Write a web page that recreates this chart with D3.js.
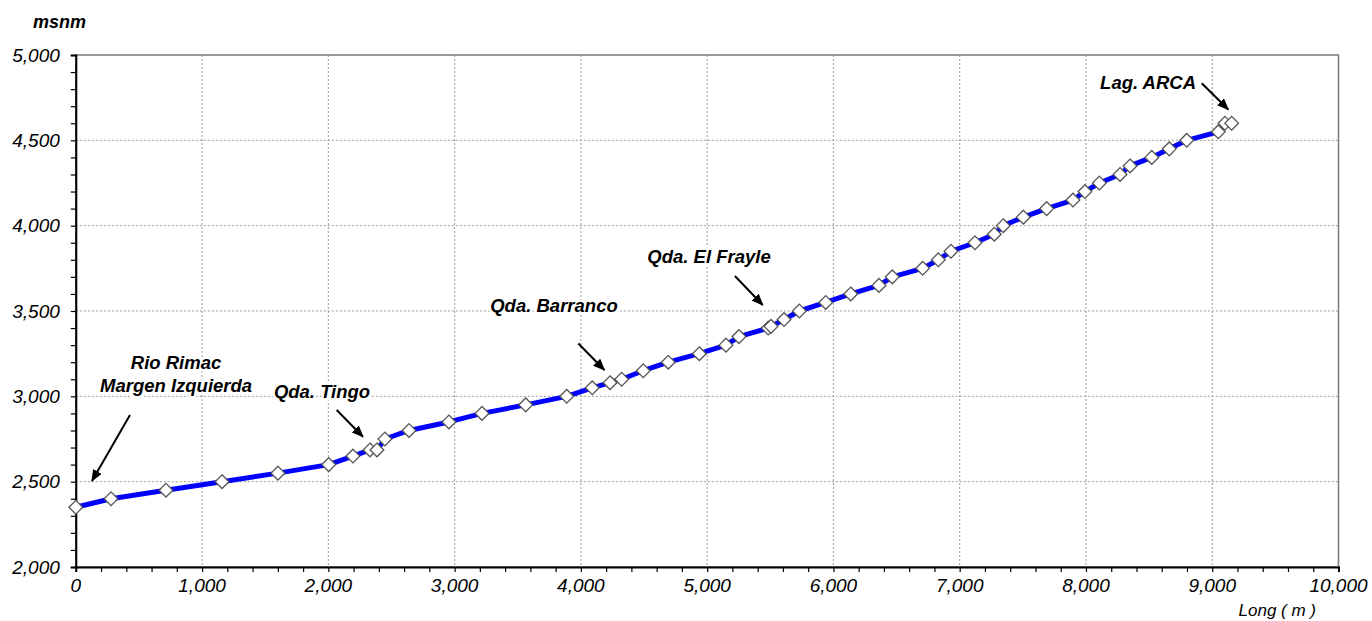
<!DOCTYPE html>
<html>
<head>
<meta charset="utf-8">
<script src="https://cdn.jsdelivr.net/npm/d3@7"></script>
<style>
  body { margin: 0; background: #fff; }
  svg { display: block; font-family: "Liberation Sans", Arial, sans-serif; }
</style>
</head>
<body>
<svg id="chart" width="1372" height="621"></svg>
<script>
// distance along the profile (m) and elevation (msnm)
const distance = [0, 279, 714, 1158, 1601, 2003, 2195, 2330, 2385, 2448, 2639, 2955, 3217, 3563, 3888,
  4090, 4231, 4323, 4494, 4692, 4938, 5149, 5252, 5484, 5506, 5609, 5730, 5939, 6137, 6361, 6466,
  6707, 6831, 6931, 7121, 7274, 7345, 7504, 7689, 7897, 7992, 8106, 8270, 8349, 8521, 8660, 8798,
  9048, 9101, 9154];
const elevation = [2350, 2400, 2450, 2500, 2550, 2600, 2650, 2686, 2686, 2750, 2800, 2850, 2900, 2950, 3000,
  3050, 3080, 3100, 3150, 3200, 3250, 3300, 3350, 3400, 3410, 3450, 3500, 3550, 3600, 3650, 3700,
  3750, 3800, 3850, 3900, 3950, 4000, 4050, 4100, 4150, 4200, 4250, 4300, 4350, 4400, 4450, 4500,
  4550, 4600, 4600];

const xTicks = [0, 1000, 2000, 3000, 4000, 5000, 6000, 7000, 8000, 9000, 10000];
const yTicks = [2000, 2500, 3000, 3500, 4000, 4500, 5000];

const labels = ["Rio Rimac|Margen Izquierda", "Qda. Tingo", "Qda. Barranco", "Qda. El Frayle", "Lag. ARCA"];

const width = 1372, height = 621;
const margin = { top: 55, right: 33.5, bottom: 54, left: 75.8 };

const svg = d3.select("#chart");
const x = d3.scaleLinear().domain([0, 10000]).range([margin.left, width - margin.right]);
const y = d3.scaleLinear().domain([2000, 5000]).range([height - margin.bottom, margin.top]);
const fmt = d3.format(",");

svg.append("defs").append("marker")
  .attr("id", "arrow")
  .attr("viewBox", "0 0 12 10")
  .attr("refX", 11).attr("refY", 5)
  .attr("markerWidth", 12).attr("markerHeight", 10)
  .attr("markerUnits", "userSpaceOnUse")
  .attr("orient", "auto")
  .append("path")
  .attr("d", "M0,0L12,5L0,10Z")
  .attr("fill", "#000");

// gridlines
const grid = svg.append("g")
  .attr("stroke", "#9a9a9a")
  .attr("stroke-width", 1)
  .attr("stroke-dasharray", "2,2");
grid.selectAll("line.v")
  .data(xTicks.slice(1, -1))
  .join("line")
  .attr("x1", d => x(d)).attr("x2", d => x(d))
  .attr("y1", y(5000)).attr("y2", y(2000));
grid.selectAll("line.h")
  .data(yTicks.slice(1, -1))
  .join("line")
  .attr("x1", x(0)).attr("x2", x(10000))
  .attr("y1", d => y(d)).attr("y2", d => y(d));

// frame
svg.append("rect")
  .attr("x", x(0)).attr("y", y(5000))
  .attr("width", x(10000) - x(0)).attr("height", y(2000) - y(5000))
  .attr("fill", "none").attr("stroke", "#7a7a7a").attr("stroke-width", 1.5);

// axes
const xAxis = svg.append("g")
  .attr("transform", `translate(0,${y(2000)})`)
  .call(d3.axisBottom(x).tickValues(d3.range(0, 10001, 200)).tickSize(5).tickFormat(""));
xAxis.select(".domain").attr("stroke-width", 2);
xAxis.selectAll(".tick line").attr("stroke-width", 1.2);
xAxis.selectAll("text.lbl")
  .data(xTicks)
  .join("text")
  .attr("class", "lbl")
  .attr("x", d => x(d)).attr("y", 25)
  .attr("text-anchor", "middle")
  .attr("font-size", 19).attr("font-style", "italic").attr("fill", "#000")
  .text(fmt);

const yAxis = svg.append("g")
  .attr("transform", `translate(${x(0)},0)`)
  .call(d3.axisLeft(y).tickValues(d3.range(2000, 5001, 100)).tickSize(5).tickFormat(""));
yAxis.select(".domain").attr("stroke-width", 2);
yAxis.selectAll(".tick line").attr("stroke-width", 1.2);
yAxis.selectAll("text.lbl")
  .data(yTicks)
  .join("text")
  .attr("class", "lbl")
  .attr("x", -16).attr("y", d => y(d)).attr("dy", "0.35em")
  .attr("text-anchor", "end")
  .attr("font-size", 19).attr("font-style", "italic").attr("fill", "#000")
  .text(fmt);

svg.append("text")
  .attr("x", 33).attr("y", 28)
  .attr("font-size", 18).attr("font-weight", "bold").attr("font-style", "italic")
  .text("msnm");
svg.append("text")
  .attr("x", 1316).attr("y", 616)
  .attr("text-anchor", "end")
  .attr("font-size", 17).attr("font-style", "italic")
  .text("Long ( m )");

// profile
const pts = distance.map((d, i) => [d, elevation[i]]);
svg.append("path")
  .datum(pts)
  .attr("fill", "none")
  .attr("stroke", "#0000ff")
  .attr("stroke-width", 5)
  .attr("stroke-linejoin", "round")
  .attr("d", d3.line().x(d => x(d[0])).y(d => y(d[1])));

svg.append("g")
  .selectAll("path")
  .data(pts)
  .join("path")
  .attr("transform", d => `translate(${x(d[0])},${y(d[1])})`)
  .attr("d", d3.symbol(d3.symbolDiamond2, 120))
  .attr("fill", "#fff")
  .attr("stroke", "#555")
  .attr("stroke-width", 1.3);

// annotations: text anchor (data units) and arrow from/to (data units)
const notes = [
  { t: labels[0], at: [794, 3160], from: [429, 2890], to: [128, 2504] },
  { t: labels[1], at: [1950, 2990], from: [2066, 2920], to: [2274, 2763] },
  { t: labels[2], at: [3787, 3494], from: [3980, 3310], to: [4186, 3154] },
  { t: labels[3], at: [5015, 3781], from: [5220, 3705], to: [5440, 3535] },
  { t: labels[4], at: [8492, 4800], from: [8917, 4834], to: [9127, 4681] }
];

const ann = svg.append("g");
ann.selectAll("line")
  .data(notes)
  .join("line")
  .attr("x1", d => x(d.from[0])).attr("y1", d => y(d.from[1]))
  .attr("x2", d => x(d.to[0])).attr("y2", d => y(d.to[1]))
  .attr("stroke", "#000").attr("stroke-width", 2)
  .attr("marker-end", "url(#arrow)");

ann.selectAll("text")
  .data(notes)
  .join("text")
  .attr("x", d => x(d.at[0])).attr("y", d => y(d.at[1]))
  .attr("text-anchor", "middle")
  .attr("font-size", 18.5).attr("font-weight", "bold").attr("font-style", "italic")
  .attr("stroke", "#fff").attr("stroke-width", 5).attr("paint-order", "stroke")
  .each(function (d) {
    const parts = d.t.split("|");
    d3.select(this).selectAll("tspan")
      .data(parts)
      .join("tspan")
      .attr("x", x(d.at[0]))
      .attr("dy", (p, i) => i ? 23 : 0)
      .text(p => p);
  });
</script>
</body>
</html>
